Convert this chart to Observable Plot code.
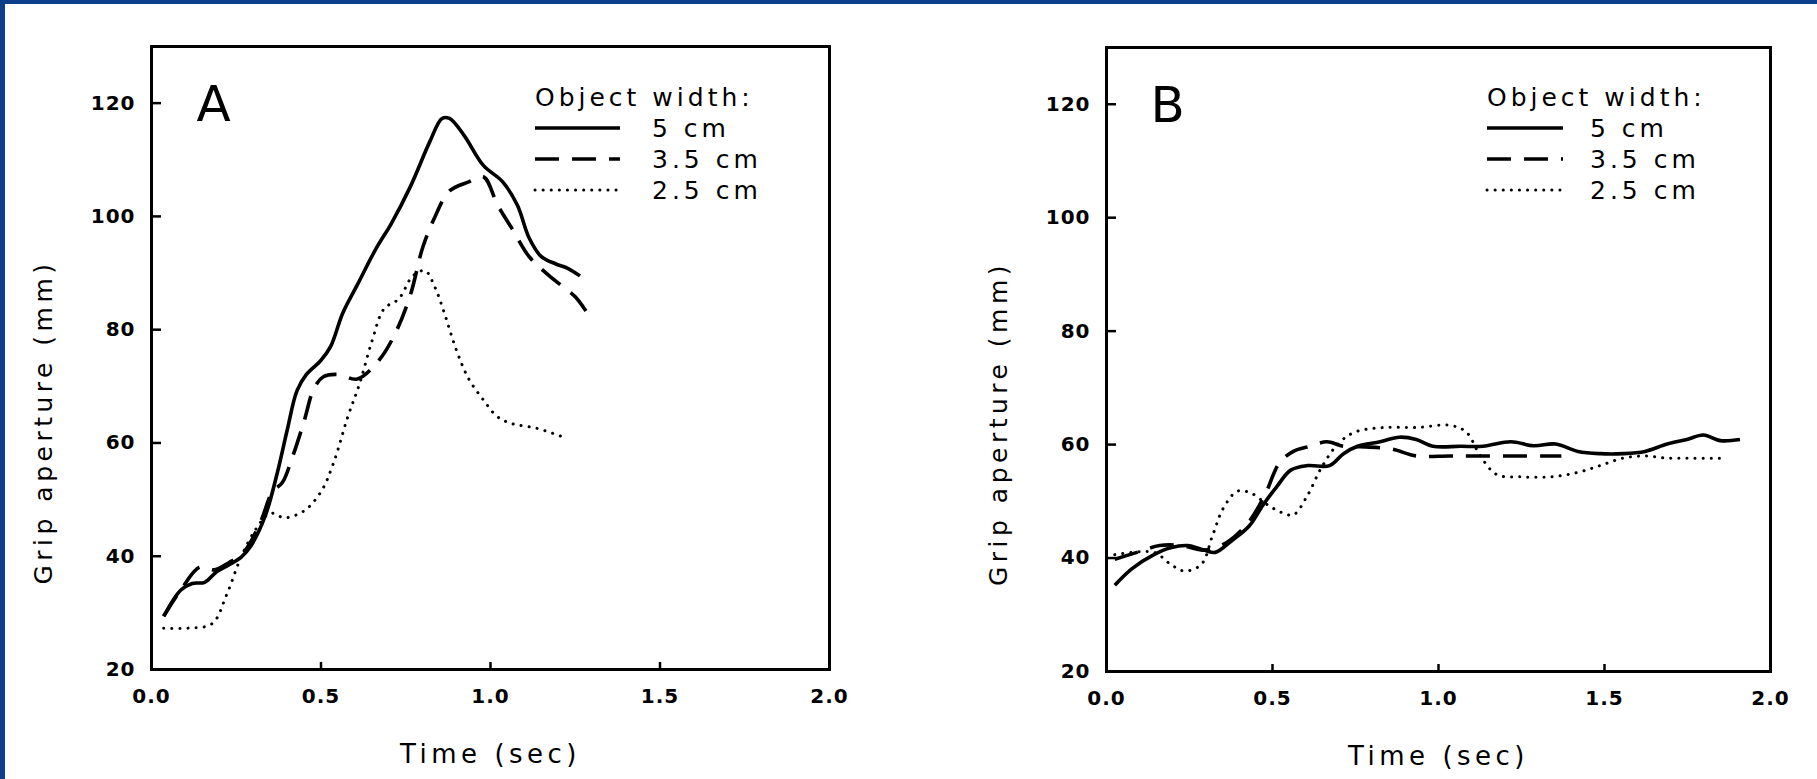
<!DOCTYPE html>
<html><head><meta charset="utf-8">
<script src="https://cdn.jsdelivr.net/npm/d3@7"></script>
<script src="https://cdn.jsdelivr.net/npm/@observablehq/plot@0.6"></script>
<style>
body{margin:0;background:#fff;}
#wrap{position:relative;width:1817px;height:779px;overflow:hidden;background:#fff;font-family:"DejaVu Sans",sans-serif;}
.band{position:absolute;background:#0c3e8c;}
.panel{position:absolute;top:0;}
.overlay{position:absolute;left:0;top:0;pointer-events:none;}
</style></head><body>
<div id="wrap">
  <div class="band" style="left:0;top:0;width:1817px;height:4px"></div>
  <div class="band" style="left:0;top:0;width:5px;height:779px"></div>
  <div id="pA" class="panel" style="left:0"></div>
  <div id="pB" class="panel" style="left:900px"></div>
  <svg id="leg" class="overlay" width="1817" height="779"></svg>
</div>
<script>
// ---- data (time in s, grip aperture in mm) ----
const panelLetters = ["A", "B"];
const xLabel = "Time (sec)";
const yLabel = "Grip aperture (mm)";
const legendTitle = "Object width:";
const seriesNames = ["5 cm", "3.5 cm", "2.5 cm"];
const xTicks = [0, 0.5, 1.0, 1.5, 2.0];
const yTicks = [20, 40, 60, 80, 100, 120];

const A_5cm = [[0.036,29.4],[0.086,34],[0.12,35.2],[0.157,35.4],[0.193,37.3],[0.229,38.5],[0.264,39.8],[0.293,41.8],[0.336,47.2],[0.371,54.7],[0.4,62.2],[0.429,69.2],[0.457,72.1],[0.5,74.6],[0.529,77.1],[0.564,82.9],[0.607,87.9],[0.664,94.5],[0.707,98.7],[0.764,105.3],[0.821,113.2],[0.857,117.3],[0.879,117.3],[0.921,114.4],[0.979,109],[1.036,106.1],[1.079,102],[1.114,96.2],[1.15,92.9],[1.193,91.6],[1.229,90.8],[1.264,89.5]];
const A_35cm = [[0.036,29.4],[0.086,34],[0.143,38.1],[0.186,37.6],[0.229,38.9],[0.271,40.6],[0.321,46],[0.357,51.4],[0.386,53],[0.414,57.2],[0.45,63.8],[0.479,69.6],[0.507,71.7],[0.55,72.1],[0.607,71.3],[0.671,74.6],[0.721,79.6],[0.764,86.2],[0.8,94.5],[0.836,99.9],[0.879,104.5],[0.936,106.1],[0.979,107],[1.021,102],[1.064,97.8],[1.114,92.9],[1.164,90],[1.207,87.9],[1.25,85.8],[1.286,82.9]];
const A_25cm = [[0.036,27.3],[0.107,27.3],[0.179,28.1],[0.221,33.1],[0.264,39.8],[0.307,44.7],[0.35,47.6],[0.393,46.8],[0.45,48],[0.5,51.4],[0.536,56.3],[0.579,64.6],[0.614,70.5],[0.65,77.9],[0.686,83.7],[0.729,85.4],[0.771,89.5],[0.807,90.4],[0.836,87.5],[0.864,82.9],[0.9,76.3],[0.936,71.3],[0.979,67.6],[1.021,64.6],[1.064,63.4],[1.136,62.6],[1.221,60.9]];

const B_5cm = [[0.025,35.2],[0.076,38.1],[0.143,40.6],[0.193,41.8],[0.244,42.2],[0.294,41.4],[0.328,41],[0.378,43.1],[0.429,45.6],[0.471,49.3],[0.513,52.6],[0.555,55.5],[0.605,56.3],[0.672,56.3],[0.714,58.4],[0.756,59.7],[0.824,60.5],[0.882,61.3],[0.933,60.9],[0.983,59.7],[1.067,59.7],[1.134,59.7],[1.218,60.5],[1.286,59.8],[1.353,60.1],[1.42,58.8],[1.487,58.4],[1.555,58.4],[1.622,58.8],[1.689,60.1],[1.748,60.9],[1.798,61.7],[1.849,60.7],[1.908,60.9]];
const B_35cm = [[0.025,39.8],[0.092,41],[0.16,42.2],[0.227,42.2],[0.294,41.4],[0.361,42.7],[0.429,46.4],[0.479,51.4],[0.521,56.8],[0.563,58.8],[0.613,59.7],[0.664,60.5],[0.714,59.7],[0.78,59.6],[0.86,59.2],[0.933,58],[1.034,58],[1.134,58],[1.252,58],[1.37,58]];
const B_25cm = [[0.025,40.6],[0.143,41],[0.193,38.9],[0.235,37.7],[0.286,38.9],[0.319,43.9],[0.353,48.9],[0.395,51.8],[0.437,51.4],[0.487,49.3],[0.529,48],[0.563,47.6],[0.605,51],[0.647,55.9],[0.697,60.1],[0.748,62.2],[0.832,63],[0.933,63],[1.034,63.4],[1.084,62.2],[1.126,58],[1.176,54.7],[1.252,54.3],[1.336,54.3],[1.42,55.1],[1.487,56.3],[1.555,57.6],[1.622,58],[1.689,57.6],[1.756,57.6],[1.824,57.6],[1.857,57.6]];

// ---- styles ----
const lineStyles = [
  {strokeWidth: 3.6, strokeDasharray: null, cap: "butt"},
  {strokeWidth: 3.6, strokeDasharray: "24,13", cap: "butt"},
  {strokeWidth: 3, strokeDasharray: "0.1,8", cap: "round"}
];
const FONT = "DejaVu Sans, sans-serif";

function panel(letter, series, opts) {
  const fw = opts.width - opts.ml - opts.mr;
  const fh = 779 - opts.mt - opts.mb;
  const marks = [
    Plot.frame({stroke: "black", strokeWidth: 3}),
    Plot.tickY(yTicks, {y: d => d, stroke: "black", strokeWidth: 2.5, insetRight: fw - 10}),
    Plot.tickX(xTicks, {x: d => d, stroke: "black", strokeWidth: 2.5, insetTop: fh - 7}),
    Plot.axisY(yTicks, {tickSize: 0, tickPadding: 16, fontSize: 20, fontWeight: "bold", label: null}),
    Plot.axisX(xTicks, {tickSize: 0, tickPadding: 19, fontSize: 20, fontWeight: "bold", label: null, tickFormat: d3.format(".1f")}),
    ...series.map((s, i) => Plot.line(s, {x: d => d[0], y: d => d[1], curve: "catmull-rom", stroke: "black",
      strokeWidth: lineStyles[i].strokeWidth, strokeDasharray: lineStyles[i].strokeDasharray, strokeLinecap: lineStyles[i].cap})),
    Plot.text([yLabel], {text: d => d, frameAnchor: "left", textAnchor: "middle", lineAnchor: "middle", rotate: -90, dx: -108, dy: 64, fontSize: 25, fontWeight: 500, fill: "black"}),
    Plot.text([xLabel], {text: d => d, frameAnchor: "bottom", textAnchor: "middle", lineAnchor: "middle", dy: 85, fontSize: 26, fontWeight: 500, fill: "black"}),
    Plot.text([letter], {text: d => d, frameAnchor: "top-left", textAnchor: "start", lineAnchor: "middle", dx: opts.letterDx, dy: 58, fontSize: 50, fill: "black"})
  ];
  return Plot.plot({
    width: opts.width, height: 779,
    marginLeft: opts.ml, marginRight: opts.mr, marginTop: opts.mt, marginBottom: opts.mb,
    x: {domain: [0, 2.0]},
    y: {domain: [20, 130]},
    style: {fontFamily: FONT, background: "transparent", color: "black", letterSpacing: "1px"},
    marks
  });
}

const plotA = panel(panelLetters[0], [A_5cm, A_35cm, A_25cm], {width: 860, ml: 151, mr: 31, mt: 46, mb: 110, letterDx: 45});
const plotB = panel(panelLetters[1], [B_5cm, B_35cm, B_25cm], {width: 917, ml: 206, mr: 47, mt: 47, mb: 108, letterDx: 44});
document.getElementById("pA").appendChild(plotA);
document.getElementById("pB").appendChild(plotB);
// wider letter spacing for axis titles
d3.selectAll("#wrap svg text").filter(function(){ const t = this.textContent; return t === xLabel || t === yLabel; }).style("letter-spacing", "4.5px");

// ---- in-plot legends ----
const leg = d3.select("#leg");
const legendPos = [{x: 535, len: 85, text: 652}, {x: 1487, len: 76, text: 1590}];
const legendBase = 106, legendStep = 31;
legendPos.forEach(p => {
  leg.append("text").attr("x", p.x).attr("y", legendBase).text(legendTitle)
    .attr("font-family", FONT).attr("font-size", 25).attr("letter-spacing", "4px").attr("fill", "black");
  seriesNames.forEach((name, i) => {
    const y = legendBase + legendStep * (i + 1);
    leg.append("line").attr("x1", p.x).attr("x2", p.x + p.len).attr("y1", y - 9).attr("y2", y - 9)
      .attr("stroke", "black").attr("stroke-width", lineStyles[i].strokeWidth)
      .attr("stroke-dasharray", lineStyles[i].strokeDasharray).attr("stroke-linecap", lineStyles[i].cap);
    leg.append("text").attr("x", p.text).attr("y", y).text(name)
      .attr("font-family", FONT).attr("font-size", 25).attr("letter-spacing", "4px").attr("fill", "black");
  });
});
</script>
</body></html>
